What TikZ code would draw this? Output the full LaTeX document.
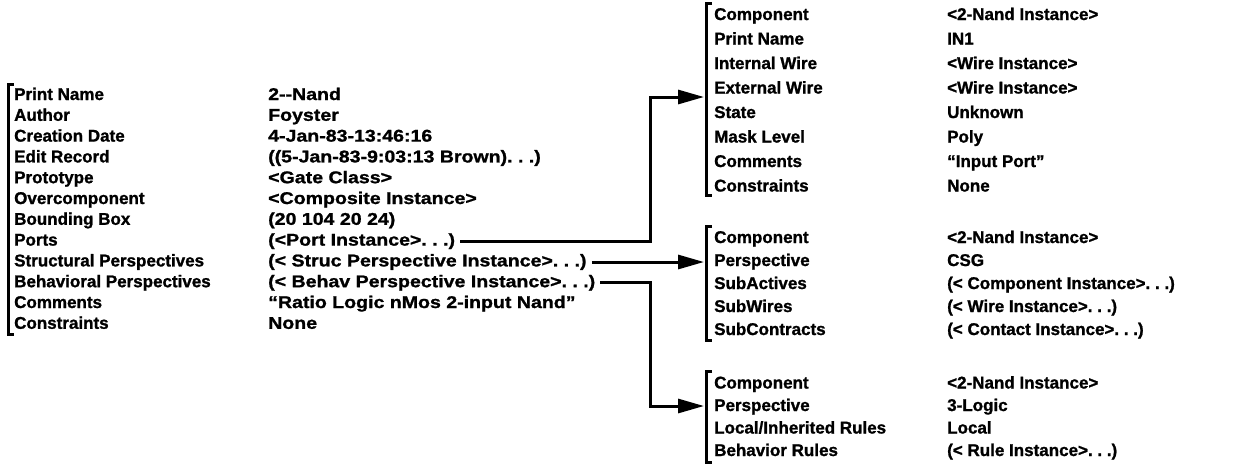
\documentclass[tikz,border=0pt]{standalone}
\usepackage{fontspec}
\setmainfont{Liberation Sans}[BoldFeatures={FakeBold=1.2}]
\newfontfamily\valfont{Liberation Sans}[FakeStretch=1.15,BoldFeatures={FakeBold=1.2}]
\usetikzlibrary{arrows.meta}
\newcommand\myrow[6]{%
  \node[txt] (#1l) at (#2,#3) {#4};
  \node[txt] (#1v) at (#5,#3) {#6};}
\newcommand\lrow[6]{%
  \node[txt] (#1l) at (#2,#3) {#4};
  \node[txt, font=\valfont\bfseries\fontsize{17}{19}\selectfont] (#1v) at (#5,#3) {#6};}
\begin{document}
\begin{tikzpicture}[x=1pt,y=-1pt,
  txt/.style={inner sep=0pt, anchor=base west, font=\bfseries\fontsize{17}{19}\selectfont},
  brk/.style={line width=3pt},
  conn/.style={line width=3pt},
  arr/.style={conn, -{Triangle[length=26pt,width=14pt]}}]
\useasboundingbox (0,0) rectangle (1238,464);
% ---------- left block
\draw[brk] (14,84) -- (8,84) -- (8,334) -- (14,334);
\lrow{A}{14}{100}{Print Name}{268}{2-{}-Nand}
\lrow{B}{14}{120.8}{Author}{268}{Foyster}
\lrow{C}{14}{141.6}{Creation Date}{268}{4-Jan-83-13:46:16}
\lrow{D}{14}{162.4}{Edit Record}{268}{((5-Jan-83-9:03:13 Brown).\ .\ .)}
\lrow{E}{14}{183.2}{Prototype}{268}{<Gate Class>}
\lrow{F}{14}{204}{Overcomponent}{268}{<Composite Instance>}
\lrow{G}{14}{224.8}{Bounding Box}{268}{(20 104 20 24)}
\lrow{H}{14}{245.6}{Ports}{268}{(<Port Instance>.\ .\ .)}
\lrow{I}{14}{266.4}{Structural Perspectives}{268}{(< Struc Perspective Instance>.\ .\ .)}
\lrow{J}{14}{287.2}{Behavioral Perspectives}{268}{(< Behav Perspective Instance>.\ .\ .)}
\lrow{K}{14}{308}{Comments}{268}{“Ratio Logic nMos 2-input Nand”}
\lrow{L}{14}{328.8}{Constraints}{268}{None}
% ---------- top block
\draw[brk] (712,3) -- (706,3) -- (706,195) -- (712,195);
\myrow{TA}{714}{20}{Component}{947}{<2-Nand Instance>}
\myrow{TB}{714}{44.5}{Print Name}{947}{IN1}
\myrow{TC}{714}{69}{Internal Wire}{947}{<Wire Instance>}
\myrow{TD}{714}{93.5}{External Wire}{947}{<Wire Instance>}
\myrow{TE}{714}{118}{State}{947}{Unknown}
\myrow{TF}{714}{142.5}{Mask Level}{947}{Poly}
\myrow{TG}{714}{167}{Comments}{947}{“Input Port”}
\myrow{TH}{714}{191.5}{Constraints}{947}{None}
% ---------- middle block
\draw[brk] (712,226) -- (706,226) -- (706,340) -- (712,340);
\myrow{MA}{714}{243}{Component}{947}{<2-Nand Instance>}
\myrow{MB}{714}{266}{Perspective}{947}{CSG}
\myrow{MC}{714}{289}{SubActives}{947}{(< Component Instance>.\ .\ .)}
\myrow{MD}{714}{312}{SubWires}{947}{(< Wire Instance>.\ .\ .)}
\myrow{ME}{714}{335}{SubContracts}{947}{(< Contact Instance>.\ .\ .)}
% ---------- bottom block
\draw[brk] (712,371) -- (706,371) -- (706,462) -- (712,462);
\myrow{BA}{714}{388.5}{Component}{947}{<2-Nand Instance>}
\myrow{BB}{714}{411}{Perspective}{947}{3-Logic}
\myrow{BC}{714}{433.5}{Local/Inherited Rules}{947}{Local}
\myrow{BD}{714}{456}{Behavior Rules}{947}{(< Rule Instance>.\ .\ .)}
% ---------- connectors
\coordinate (tk) at (650,97);
\coordinate (tt) at (704,97);
\coordinate (mt) at (704,0);
\coordinate (bk) at (650,406);
\coordinate (bt) at (704,406);
\draw[arr, shorten <=5pt] (Hv.east) -| (tk) -- (tt);
\draw[arr, shorten <=5pt] (Iv.east) -- (Iv.east -| mt);
\draw[arr, shorten <=5pt] (Jv.east) -| (bk) -- (bt);
\end{tikzpicture}
\end{document}
